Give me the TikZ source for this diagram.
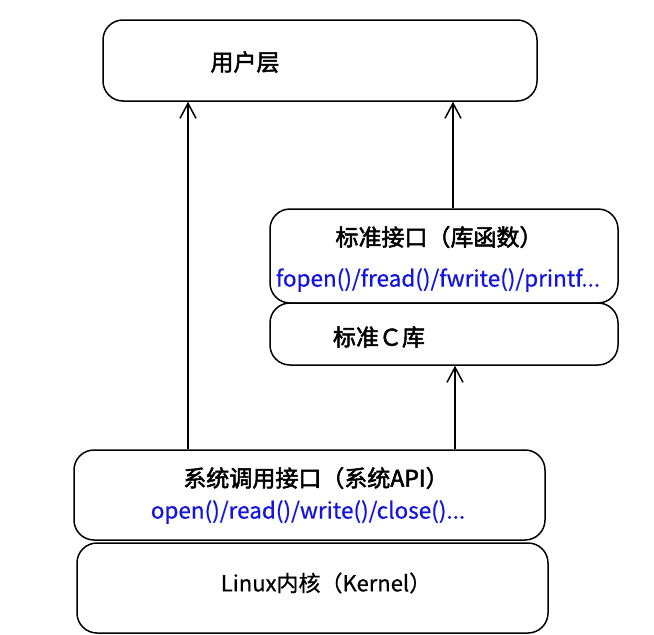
\documentclass[tikz,border=0pt]{standalone}
\usepackage{fontspec}
\setmainfont{Noto Sans CJK SC}
\newfontfamily\midfont{Noto Sans CJK SC}[FakeBold=0.6]
\newfontfamily\headfont{Noto Sans CJK SC}[FakeBold=2.2]
\usetikzlibrary{arrows.meta,positioning}
\definecolor{apiblue}{RGB}{20,20,225}

\tikzset{
  layer/.style={draw, line width=1.5pt, rounded corners=20pt, fill=white},
  title/.style={font=\fontsize{23}{26}\headfont},
  plain/.style={font=\fontsize{22}{26}\midfont},
  api/.style={font=\fontsize{22.5}{26}\midfont, text=apiblue},
  up/.style={-{Straight Barb[length=15pt,width=16pt]}, line width=1.5pt},
}

\begin{document}
\begin{tikzpicture}[x=1pt,y=-1pt]
  \useasboundingbox (0,0) rectangle (654,635);

  % Layer boxes
  \node[layer, minimum width=434, minimum height=81] (user) at (320,60.5) {};
  \node[layer, minimum width=348, minimum height=94] (stdif) at (444,256) {};
  \node[layer, minimum width=348, minimum height=62] (clib) at (444,334) {};
  \node[layer, minimum width=471, minimum height=90] (syscall) at (309.5,495) {};
  \node[layer, minimum width=471, minimum height=90] (kernel) at (312.5,588) {};

  % Texts
  \node[title] (usertxt) at (245,62) {用户层};
  \node[title] (stdiftxt) at (439,237) {标准接口（库函数）};
  \node[api] (stdifapi) at (438,280) {fopen()/fread()/fwrite()/printf...};
  \node[title] (clibtxt) at (379,337) {标准Ｃ库};
  \node[title] (systxt) at (316,478) {系统调用接口（系统API）};
  \node[api] (sysapi) at (308,512) {open()/read()/write()/close()...};
  \node[plain] (kerneltxt) at (326,583) {Linux内核（Kernel）};

  % Calls going up
  \draw[up] ([xshift=-121.5pt]syscall.north) -- ([xshift=-121.5pt]syscall.north |- user.south);
  \draw[up] ([xshift=9pt]stdif.north) -- ([xshift=9pt]stdif.north |- user.south);
  \draw[up] ([xshift=11pt]clib.south |- syscall.north) -- ([xshift=11pt]clib.south);
\end{tikzpicture}
\end{document}
